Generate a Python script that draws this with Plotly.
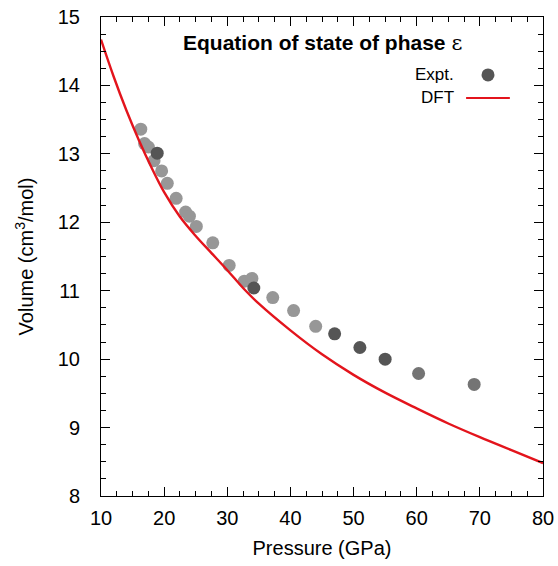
import plotly.graph_objects as go

# Experimental data (pressure GPa, volume cm^3/mol) by shade group
expt_light_p = [16.3, 16.9, 17.5, 18.4, 19.6, 20.5, 21.9, 23.4, 24.0, 25.1, 27.7, 30.3, 32.7, 33.9, 37.2, 40.5, 44.0]
expt_light_v = [13.36, 13.15, 13.10, 12.90, 12.75, 12.57, 12.35, 12.15, 12.09, 11.94, 11.70, 11.37, 11.14, 11.18, 10.90, 10.71, 10.48]
expt_dark_p = [18.9, 34.2, 47.0, 51.0, 55.0]
expt_dark_v = [13.01, 11.04, 10.37, 10.17, 10.00]
expt_mid_p = [60.3, 69.1]
expt_mid_v = [9.79, 9.63]

# DFT equation of state curve
dft_p = [10, 12, 14, 16, 18, 20, 22.5, 25, 27.5, 30, 32.5, 35, 40, 45, 50, 55, 60, 65, 70, 75, 80]
dft_v = [14.67, 14.13, 13.64, 13.20, 12.80, 12.44, 12.08, 11.80, 11.55, 11.30, 11.04, 10.81, 10.42, 10.07, 9.77, 9.51, 9.28, 9.06, 8.86, 8.67, 8.48]

x_ticks = [10, 20, 30, 40, 50, 60, 70, 80]
y_ticks = [8, 9, 10, 11, 12, 13, 14, 15]

FONT = "Liberation Sans, Arial, Helvetica, sans-serif"
RED = "#e3141c"

fig = go.Figure()
for p, v, c in [(expt_light_p, expt_light_v, "#979797"),
                (expt_dark_p, expt_dark_v, "#555555"),
                (expt_mid_p, expt_mid_v, "#747474")]:
    fig.add_trace(go.Scatter(x=p, y=v, mode="markers",
                             marker=dict(size=13, color=c, line=dict(width=0)),
                             showlegend=False, hoverinfo="x+y"))
fig.add_trace(go.Scatter(x=dft_p, y=dft_v, mode="lines",
                         line=dict(color=RED, width=2.4, shape="spline", smoothing=1.0),
                         showlegend=False))

axis_common = dict(showgrid=False, zeroline=False, showline=True, linecolor="black", linewidth=1,
                   mirror="ticks", ticks="inside", ticklen=9, tickwidth=1, tickcolor="black",
                   automargin=False, ticklabeloverflow="allow",
                   tickfont=dict(size=20, color="black", family=FONT))
fig.update_xaxes(range=[10, 80], tickvals=x_ticks, ticklabelstandoff=4,
                 minor=dict(dtick=2.5, ticks="inside", ticklen=5, tickcolor="black", tickwidth=1),
                 title=dict(text="Pressure (GPa)", font=dict(size=20, color="black", family=FONT), standoff=12),
                 **axis_common)
fig.update_yaxes(range=[8, 15], tickvals=y_ticks, ticklabelstandoff=16,
                 minor=dict(dtick=0.25, ticks="inside", ticklen=5, tickcolor="black", tickwidth=1),
                 title=dict(text="Volume (cm<sup>3</sup>/mol)", font=dict(size=20, color="black", family=FONT), standoff=18),
                 **axis_common)

# Title inside plot
fig.add_annotation(xref="paper", yref="paper", x=0.5, y=0.946,
                   text="<b>Equation of state of phase</b> <span style='font-family:DejaVu Serif, serif'>ε</span>",
                   showarrow=False, font=dict(size=21, color="black", family=FONT), xanchor="center", yanchor="middle")

# Manual legend (text left of sample, gnuplot style)
fig.add_annotation(xref="paper", yref="paper", x=0.803, y=0.879, text="Expt.", showarrow=False,
                   xanchor="right", yanchor="middle", font=dict(size=17, color="black", family=FONT))
fig.add_annotation(xref="paper", yref="paper", x=0.803, y=0.831, text="DFT", showarrow=False,
                   xanchor="right", yanchor="middle", font=dict(size=17, color="black", family=FONT))
fig.add_shape(type="circle", xref="paper", yref="paper",
              xsizemode="pixel", ysizemode="pixel", xanchor=0.8756, yanchor=0.879,
              x0=-6.5, x1=6.5, y0=-6.5, y1=6.5,
              line=dict(width=0), fillcolor="#555555")
fig.add_shape(type="line", xref="paper", yref="paper", x0=0.826, x1=0.925, y0=0.831, y1=0.831,
              line=dict(color=RED, width=2))

fig.update_layout(width=558, height=566, margin=dict(l=101, r=15, t=17, b=70, autoexpand=False),
                  plot_bgcolor="white", paper_bgcolor="white", showlegend=False,
                  font=dict(family=FONT, color="black"))

fig.write_html("out.html", config={"displayModeBar": False},
               post_script="document.body.style.margin='0';document.body.style.overflow='hidden';")
